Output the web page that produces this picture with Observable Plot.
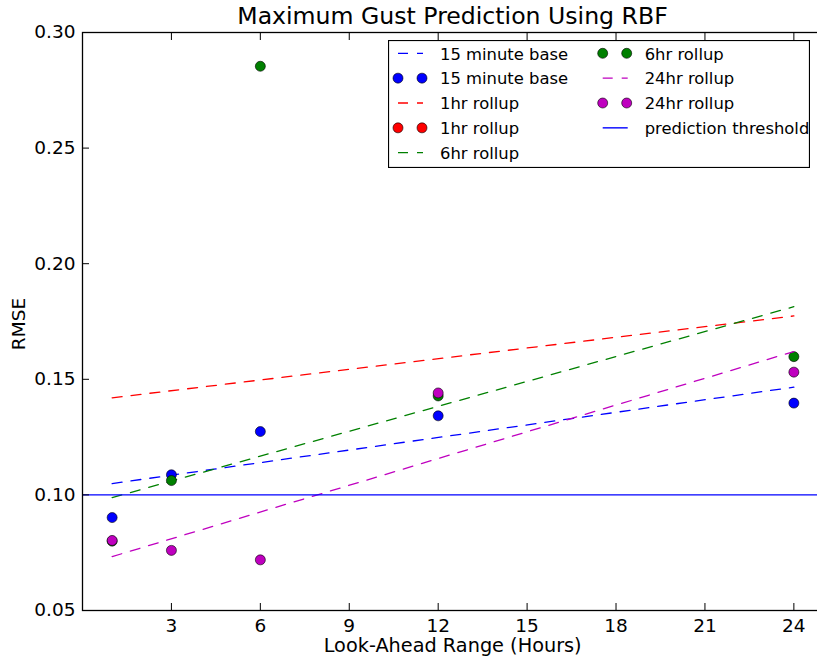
<!DOCTYPE html>
<html><head><meta charset="utf-8">
<script src="https://cdn.jsdelivr.net/npm/d3@7"></script>
<script src="https://cdn.jsdelivr.net/npm/@observablehq/plot@0.6"></script>
<style>
html,body{margin:0;padding:0;background:#fff;overflow:hidden;width:817px;height:659px;}
#wrap{position:relative;width:817px;height:659px;overflow:hidden;font-family:"DejaVu Sans",sans-serif;color:#000}
#chart{position:absolute;left:0;top:0;width:830px;height:659px}
#chart svg{max-width:none !important;}
.t{position:absolute;white-space:nowrap;line-height:1;font-family:"DejaVu Sans",sans-serif;color:#000}
#legend{position:absolute;left:388px;top:40px}
</style></head><body><div id="wrap"><div id="chart"></div></div>
<script>
// ---- data ----
const hours = [1, 3, 6, 12, 24];
const seriesNames = ["15 minute base", "1hr rollup", "6hr rollup", "24hr rollup"];
const seriesColors = ["#0000ff", "#ff0000", "#008000", "#bf00bf"];
const rmse15min = [0.0902, 0.1087, 0.1274, 0.1342, 0.1397];
const rmse1hr = [];               // not visible in the picture
const rmse6hr = [0.0800, 0.1062, 0.2854, 0.1428, 0.1598];
const rmse24hr = [0.0803, 0.0760, 0.0719, 0.1441, 0.1531];
const fitHours = [1, 24];
const fitStart = [0.1049, 0.1420, 0.0988, 0.0733];
const fitEnd = [0.1466, 0.1774, 0.1814, 0.1620];
const threshold = 0.10;
const thresholdLabel = "prediction threshold";
const xTicks = [3, 6, 9, 12, 15, 18, 21, 24];
const yTicks = [0.05, 0.10, 0.15, 0.20, 0.25, 0.30];
const titleText = "Maximum Gust Prediction Using RBF";
const xLabel = "Look-Ahead Range (Hours)";
const yLabel = "RMSE";

// ---- chart ----
const allValues = [rmse15min, rmse1hr, rmse6hr, rmse24hr];
const dash = "10,9";
const marks = [];
seriesNames.forEach((name, i) => {
  const fit = fitHours.map((h, j) => ({x: h, y: j === 0 ? fitStart[i] : fitEnd[i]}));
  marks.push(Plot.line(fit, {x: "x", y: "y", stroke: seriesColors[i], strokeWidth: 1.3, strokeDasharray: dash}));
  const pts = allValues[i].map((v, j) => ({x: hours[j], y: v}));
  marks.push(Plot.dot(pts, {x: "x", y: "y", r: 5, fill: seriesColors[i], stroke: "#000", strokeWidth: 0.6}));
});
marks.push(Plot.ruleY([threshold], {stroke: "#0000ff", strokeWidth: 1.4}));
marks.push(Plot.frame({stroke: "#000", strokeWidth: 1.3}));
marks.push(Plot.axisX(xTicks, {anchor: "bottom", tickSize: -7, tickPadding: 15, label: null, tickFormat: d => String(d), fontSize: 18.5}));
marks.push(Plot.axisX(xTicks, {anchor: "top", tickSize: -7, label: null, tickFormat: () => ""}));
marks.push(Plot.axisY(yTicks, {anchor: "left", tickSize: -7, tickPadding: 14, label: null, tickFormat: d3.format(".2f"), fontSize: 18.5}));
marks.push(Plot.axisY(yTicks, {anchor: "right", tickSize: -7, label: null, tickFormat: () => ""}));

const chart = Plot.plot({
  width: 830, height: 659,
  marginLeft: 82, marginRight: 7, marginTop: 32, marginBottom: 49,
  x: {domain: [0, 25]},
  y: {domain: [0.05, 0.30]},
  style: {fontFamily: "DejaVu Sans", fontSize: "18.5px", color: "#000", background: "white", overflow: "visible", maxWidth: "none"},
  marks
});
chart.style.maxWidth = "none";
chart.setAttribute("width", 830);
chart.setAttribute("height", 659);
document.getElementById("chart").appendChild(chart);

// ---- texts ----
const wrap = document.getElementById("wrap");
function addText(txt, size, css) {
  const d = document.createElement("div");
  d.className = "t";
  d.textContent = txt;
  d.style.fontSize = size + "px";
  Object.assign(d.style, css);
  wrap.appendChild(d);
  return d;
}
addText(titleText, 23.6, {left: "452.5px", top: "5px", transform: "translateX(-50%)"});
addText(xLabel, 19.3, {left: "452.7px", top: "636.3px", transform: "translateX(-50%)"});
addText(yLabel, 18.5, {left: "18.5px", top: "324px", transform: "translate(-50%,-50%) rotate(-90deg)"});

// ---- legend ----
const legendEntries = [
  {label: seriesNames[0], kind: "line", color: seriesColors[0]},
  {label: seriesNames[0], kind: "dots", color: seriesColors[0]},
  {label: seriesNames[1], kind: "line", color: seriesColors[1]},
  {label: seriesNames[1], kind: "dots", color: seriesColors[1]},
  {label: seriesNames[2], kind: "line", color: seriesColors[2]},
  {label: seriesNames[2], kind: "dots", color: seriesColors[2]},
  {label: seriesNames[3], kind: "line", color: seriesColors[3]},
  {label: seriesNames[3], kind: "dots", color: seriesColors[3]},
  {label: thresholdLabel, kind: "solid", color: "#0000ff"}
];
const LW = 422, LH = 128, rowH = 24.85, row0 = 13.3;
const colX = [10, 214.7];
const svg = d3.select(wrap).append("svg").attr("id", "legend").attr("width", LW).attr("height", LH);
svg.append("rect").attr("x", 0.5).attr("y", 0.5).attr("width", LW - 1).attr("height", LH - 1)
  .attr("fill", "white").attr("stroke", "#000").attr("stroke-width", 1.2);
legendEntries.forEach((e, k) => {
  const col = k < 5 ? 0 : 1, row = k < 5 ? k : k - 5;
  const x0 = colX[col], y = row0 + row * rowH;
  const g = svg.append("g");
  if (e.kind === "dots") {
    [x0, x0 + 24].forEach(cx => g.append("circle").attr("cx", cx).attr("cy", y).attr("r", 5)
      .attr("fill", e.color).attr("stroke", "#000").attr("stroke-width", 0.6));
  } else {
    g.append("line").attr("x1", x0).attr("x2", x0 + 25).attr("y1", y).attr("y2", y)
      .attr("stroke", e.color).attr("stroke-width", e.kind === "solid" ? 1.4 : 1.3)
      .attr("stroke-dasharray", e.kind === "solid" ? null : dash);
  }
  g.append("text").attr("x", x0 + 42).attr("y", y + 6.2).text(e.label)
    .attr("font-family", "DejaVu Sans").attr("font-size", 16.4).attr("fill", "#000");
});
</script></body></html>
